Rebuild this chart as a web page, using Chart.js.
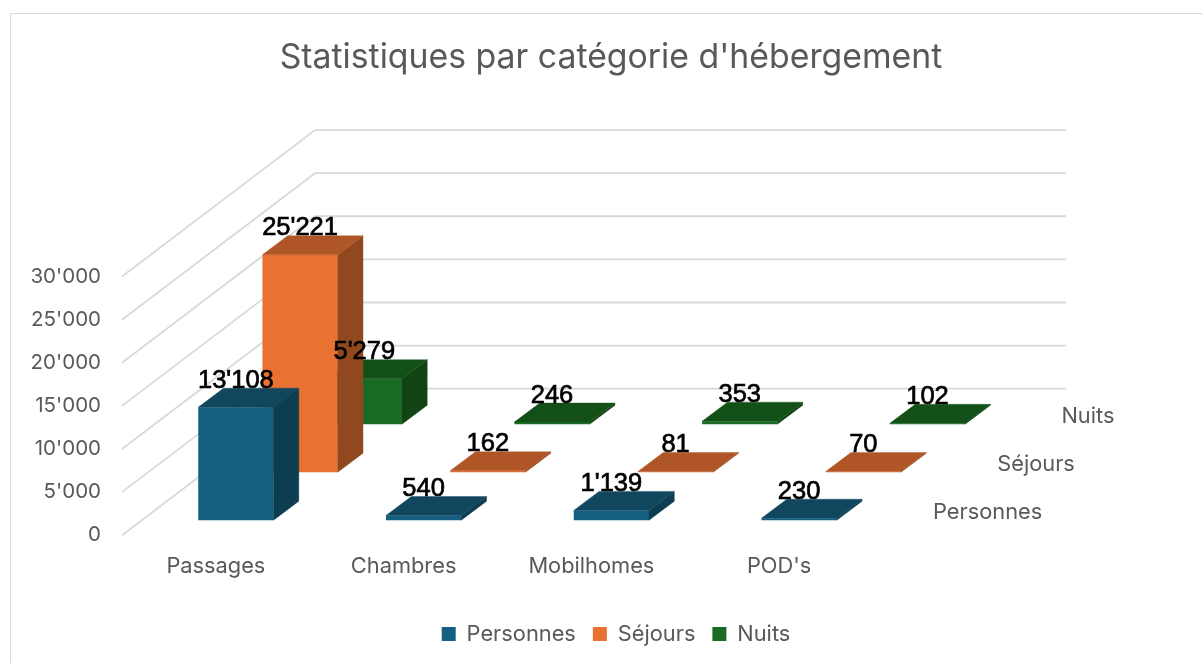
<!DOCTYPE html>
<html><head><meta charset="utf-8">
<script src="https://cdn.jsdelivr.net/npm/chart.js@4/dist/chart.umd.js"></script>
<style>
html,body{margin:0;padding:0;background:#fff;overflow:hidden}
#frame{position:absolute;left:10px;top:13px;width:1300px;height:700px;border:1.5px solid #d9d9d9;box-sizing:border-box}
canvas{position:absolute;left:0;top:0}
</style></head><body>
<div id="frame"></div>
<canvas id="c" width="1202" height="663"></canvas>
<script>
const categories = ["Passages", "Chambres", "Mobilhomes", "POD's"];
const personnes = [13108, 540, 1139, 230];
const sejours = [25221, 162, 81, 70];
const nuits = [5279, 246, 353, 102];
const titleText = "Statistiques par catégorie d'hébergement";
const FONT = "Inter, 'Noto Sans', sans-serif";
const LABEL_FONT = "'Liberation Sans', Arial, sans-serif";
const GREY = "#595959";
const GRID = "#d9d9d9";

// projection constants of the oblique 3D look
const WALL = {dx: 193, dy: -146.5};
const BASE = {dx: 20, dy: -15};
const STEP = {dx: 64.2, dy: -48};
const BAR = {dx: 25.3, dy: -19};
const faces = [
  {top: "#10475f", side: "#0d3d50"},
  {top: "#b05626", side: "#91481f"},
  {top: "#135018", side: "#114315"}
];
const fmt = v => String(v).replace(/\B(?=(\d{3})+$)/g, "'");
const shift = i => ({x: BASE.dx + STEP.dx * i, y: BASE.dy + STEP.dy * i});

const poly = (ctx, pts, fill) => {
  ctx.beginPath();
  pts.forEach((p, k) => k ? ctx.lineTo(p[0], p[1]) : ctx.moveTo(p[0], p[1]));
  ctx.closePath();
  ctx.fillStyle = fill;
  ctx.strokeStyle = fill;
  ctx.lineWidth = 0.4;
  ctx.fill();
  ctx.stroke();
};

const bar3d = {
  id: "bar3d",
  afterLayout(chart) {
    chart.legend.left += 5;
    chart.legend.right += 5;
  },
  beforeDatasetsDraw(chart) {
    const {ctx, scales: {y, x}} = chart;
    ctx.save();
    ctx.strokeStyle = GRID;
    ctx.lineWidth = 1.8;
    y.ticks.forEach(t => {
      const py = y.getPixelForValue(t.value);
      ctx.beginPath();
      ctx.moveTo(x.left, py);
      ctx.lineTo(x.left + WALL.dx, py + WALL.dy);
      ctx.lineTo(x.right + WALL.dx, py + WALL.dy);
      ctx.stroke();
    });
    ctx.restore();
  },
  beforeDatasetDraw(chart, args) {
    const s = shift(args.index);
    chart.ctx.save();
    chart.ctx.translate(s.x, s.y);
  },
  afterDatasetDraw(chart, args) {
    const {ctx} = chart;
    const f = faces[args.index];
    args.meta.data.forEach(b => {
      const l = b.x - b.width / 2, r = b.x + b.width / 2;
      poly(ctx, [[r, b.y], [r, b.base], [r + BAR.dx, b.base + BAR.dy], [r + BAR.dx, b.y + BAR.dy]], f.side);
      poly(ctx, [[l, b.y], [r, b.y], [r + BAR.dx, b.y + BAR.dy], [l + BAR.dx, b.y + BAR.dy]], f.top);
    });
    ctx.restore();
  },
  afterDatasetsDraw(chart) {
    const {ctx, scales: {x, y}} = chart;
    ctx.save();
    // value labels
    ctx.font = "25.5px " + LABEL_FONT;
    ctx.textAlign = "center";
    ctx.textBaseline = "middle";
    ctx.fillStyle = "#000";
    ctx.strokeStyle = "#000";
    ctx.lineWidth = 0.7;
    chart.data.datasets.forEach((ds, i) => {
      const s = shift(i);
      chart.getDatasetMeta(i).data.forEach((b, k) => {
        const t = fmt(ds.data[k]);
        ctx.fillText(t, b.x + s.x, b.y + s.y - 26.5);
        ctx.strokeText(t, b.x + s.x, b.y + s.y - 26.5);
      });
    });
    // depth axis labels
    ctx.font = "21.8px " + FONT;
    ctx.fillStyle = GREY;
    ctx.textAlign = "left";
    chart.data.datasets.forEach((ds, i) => {
      const s = shift(i);
      ctx.fillText(ds.label, x.right + 60 + STEP.dx * i, y.bottom + s.y - 8);
    });
    ctx.restore();
  }
};

new Chart(document.getElementById("c"), {
  type: "bar",
  plugins: [bar3d],
  data: {
    labels: categories,
    datasets: [
      {label: "Personnes", data: personnes, backgroundColor: "#156082"},
      {label: "Séjours", data: sejours, backgroundColor: "#e97132"},
      {label: "Nuits", data: nuits, backgroundColor: "#196b24"}
    ].map(d => Object.assign(d, {clip: false, grouped: false, barPercentage: 0.401, categoryPercentage: 1, borderWidth: 0}))
  },
  options: {
    responsive: false,
    animation: false,
    layout: {padding: {left: 20, right: 0, top: 0, bottom: 8}},
    plugins: {
      tooltip: {enabled: false},
      title: {
        display: true, text: titleText, color: GREY,
        font: {family: FONT, size: 33.8, weight: "400"},
        padding: {top: 38, bottom: 198}
      },
      legend: {
        position: "bottom",
        labels: {color: GREY, font: {family: FONT, size: 21.8}, boxWidth: 14, boxHeight: 14, padding: 17}
      }
    },
    scales: {
      x: {
        grid: {display: false}, border: {display: false},
        ticks: {color: GREY, font: {family: FONT, size: 21.8}, padding: 10, maxRotation: 0},
        afterFit(a) { a.height = 71; }
      },
      y: {
        min: 0, max: 30000,
        grid: {display: false}, border: {display: false},
        ticks: {stepSize: 5000, color: GREY, font: {family: FONT, size: 20.5}, padding: 13, callback: fmt},
        afterFit(a) { a.width = 102; }
      },
      spare: {
        type: "linear", position: "right", display: true,
        grid: {display: false}, border: {display: false}, ticks: {display: false},
        afterFit(a) { a.width = 329; }
      }
    }
  }
});
</script>
</body></html>
